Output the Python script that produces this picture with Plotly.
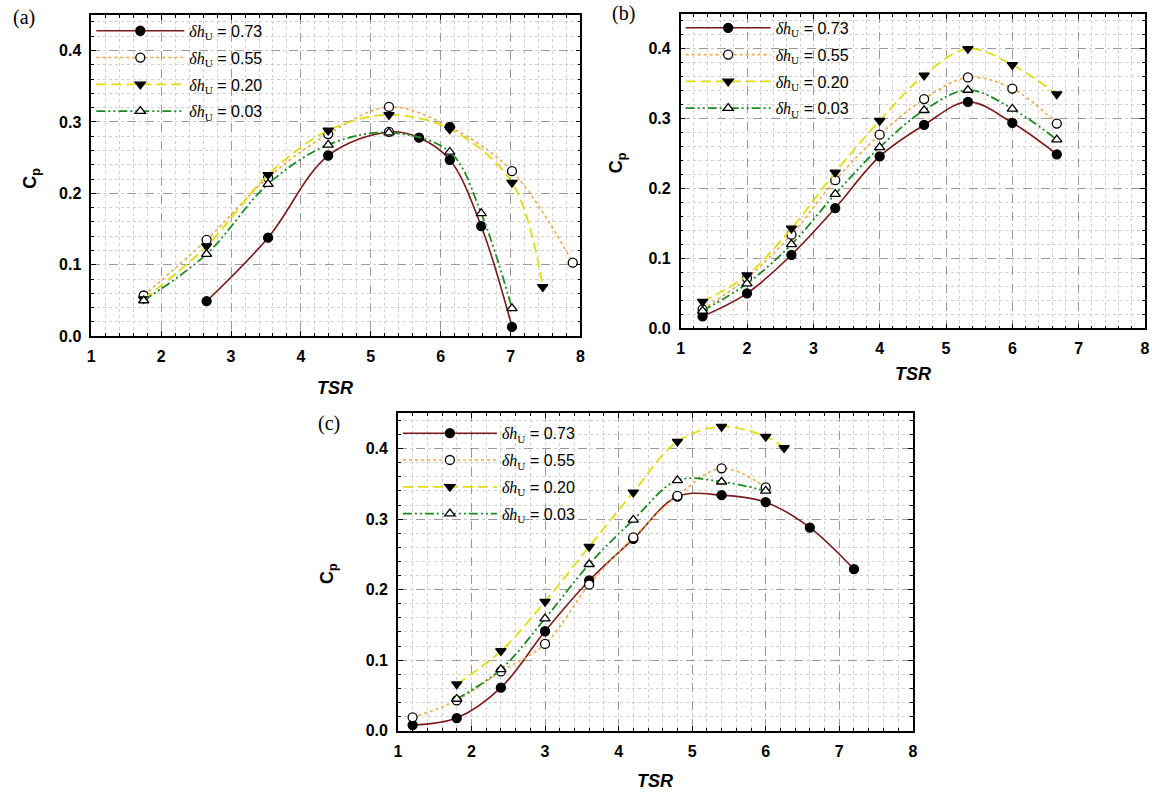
import plotly.graph_objects as go

# ---------------- data ----------------
series_labels = ["0.73", "0.55", "0.20", "0.03"]

# panel (a)
tsr_a_073 = [2.65, 3.53, 4.39, 5.26, 5.69, 6.13, 6.58, 7.02]
cp_a_073 = [0.049, 0.138, 0.253, 0.286, 0.278, 0.247, 0.154, 0.013]
tsr_a_055 = [1.75, 2.65, 3.53, 4.39, 5.26, 6.13, 7.02, 7.89]
cp_a_055 = [0.057, 0.135, 0.222, 0.283, 0.321, 0.293, 0.231, 0.103]
tsr_a_020 = [1.75, 2.65, 3.53, 4.39, 5.26, 6.13, 7.02, 7.46]
cp_a_020 = [0.052, 0.126, 0.226, 0.288, 0.310, 0.290, 0.215, 0.069]
tsr_a_003 = [1.75, 2.65, 3.53, 4.39, 5.26, 6.13, 6.58, 7.02]
cp_a_003 = [0.050, 0.115, 0.213, 0.268, 0.285, 0.258, 0.172, 0.039]

# panel (b)
tsr_b = [1.33, 2.0, 2.67, 3.33, 4.0, 4.67, 5.33, 6.0, 6.67]
cp_b_073 = [0.017, 0.050, 0.105, 0.172, 0.246, 0.291, 0.324, 0.294, 0.249]
cp_b_055 = [0.027, 0.072, 0.134, 0.212, 0.277, 0.328, 0.359, 0.343, 0.293]
cp_b_020 = [0.038, 0.076, 0.143, 0.223, 0.297, 0.362, 0.400, 0.377, 0.335]
cp_b_003 = [0.025, 0.064, 0.120, 0.192, 0.259, 0.312, 0.341, 0.314, 0.270]

# panel (c)
tsr_c_073 = [1.2, 1.8, 2.4, 3.0, 3.6, 4.2, 4.8, 5.4, 6.0, 6.6, 7.2]
cp_c_073 = [0.008, 0.018, 0.061, 0.141, 0.213, 0.272, 0.332, 0.334, 0.324, 0.288, 0.229]
tsr_c_055 = [1.2, 1.8, 2.4, 3.0, 3.6, 4.2, 4.8, 5.4, 6.0]
cp_c_055 = [0.019, 0.043, 0.084, 0.123, 0.207, 0.274, 0.333, 0.372, 0.345]
tsr_c_020 = [1.8, 2.4, 3.0, 3.6, 4.2, 4.8, 5.4, 6.0, 6.25]
cp_c_020 = [0.066, 0.113, 0.183, 0.261, 0.338, 0.410, 0.431, 0.417, 0.401]
tsr_c_003 = [1.8, 2.4, 3.0, 3.6, 4.2, 4.8, 5.4, 6.0]
cp_c_003 = [0.045, 0.087, 0.159, 0.236, 0.299, 0.355, 0.353, 0.340]

x_ticks = [1, 2, 3, 4, 5, 6, 7, 8]
y_ticks = [0.0, 0.1, 0.2, 0.3, 0.4]

# ---------------- styles ----------------
W, H = 1152, 803
colors = {"0.73": "#7a1a1a", "0.55": "#f0a848", "0.20": "#e2dc10", "0.03": "#1f8a24"}
dashes = {"0.73": "solid", "0.55": "dot", "0.20": "10px,5px",
          "0.03": "9px,3px,2px,3px,2px,3px"}
symbols = {"0.73": "circle", "0.55": "circle", "0.20": "triangle-down", "0.03": "triangle-up"}
fills = {"0.73": "black", "0.55": "white", "0.20": "black", "0.03": "white"}
widths = {"0.73": 1.6, "0.55": 1.6, "0.20": 1.8, "0.03": 1.8}


def px_dom_x(a, b):
    return [a / W, b / W]


def px_dom_y(top, bottom):
    return [1 - bottom / H, 1 - top / H]


panels = {
    "a": dict(xd=px_dom_x(88, 581), yd=px_dom_y(15, 340), legend="legend",
              data=[(tsr_a_073, cp_a_073), (tsr_a_055, cp_a_055),
                    (tsr_a_020, cp_a_020), (tsr_a_003, cp_a_003)]),
    "b": dict(xd=px_dom_x(682, 1150), yd=px_dom_y(14, 332), legend="legend2",
              data=[(tsr_b, cp_b_073), (tsr_b, cp_b_055),
                    (tsr_b, cp_b_020), (tsr_b, cp_b_003)]),
    "c": dict(xd=px_dom_x(397, 916), yd=px_dom_y(418, 739), legend="legend3",
              data=[(tsr_c_073, cp_c_073), (tsr_c_055, cp_c_055),
                    (tsr_c_020, cp_c_020), (tsr_c_003, cp_c_003)]),
}

# per-point fill overrides seen in panel (a)
fill_override = {("a", "0.73"): {3: "white"}, ("a", "0.55"): {5: "black"}}

fig = go.Figure()
axis_ids = {"a": ("x", "y"), "b": ("x2", "y2"), "c": ("x3", "y3")}

for key, p in panels.items():
    xa, ya = axis_ids[key]
    for lab, (xs, ys) in zip(series_labels, p["data"]):
        fc = [fills[lab]] * len(xs)
        for i, c in fill_override.get((key, lab), {}).items():
            fc[i] = c
        name = ('<span style="font-family:Liberation Serif"><i>δh</i><sub>U</sub></span>'
                ' = ' + lab)
        fig.add_trace(go.Scatter(
            x=xs, y=ys, mode="lines+markers", name=name,
            legendgroup=key + lab,
            line=dict(color=colors[lab], width=widths[lab], dash=dashes[lab],
                      shape="spline", smoothing=1.0),
            marker=dict(symbol=symbols[lab], size=9, color=fc,
                        line=dict(color="black", width=1.3)),
            xaxis=xa, yaxis=ya, legend=p["legend"], showlegend=True,
        ))

axis_common = dict(
    showline=True, linecolor="black", linewidth=1.5, mirror="ticks",
    ticks="inside", ticklen=5, tickwidth=1, tickcolor="black",
    showgrid=True, gridcolor="#9a9a9a", griddash="dash", gridwidth=1,
    zeroline=False, ticklabelstandoff=5,
    tickfont=dict(family="Liberation Sans", size=16, color="black", weight="bold"),
)

layout = dict(
    width=W, height=H, margin=dict(l=0, r=0, t=0, b=0),
    paper_bgcolor="white", plot_bgcolor="white", showlegend=True,
)

for key, p in panels.items():
    xa, ya = axis_ids[key]
    xname = "xaxis" if xa == "x" else "xaxis" + xa[1:]
    yname = "yaxis" if ya == "y" else "yaxis" + ya[1:]
    layout[xname] = dict(
        axis_common, domain=p["xd"], range=[1, 8], anchor=ya,
        tickvals=x_ticks, ticktext=[str(v) for v in x_ticks],
        minor=dict(dtick=0.2, tick0=1, ticks="inside", ticklen=3, tickcolor="black",
                   showgrid=True, gridcolor="#d0d0d0", griddash="dot", gridwidth=1),
    )
    layout[yname] = dict(
        axis_common, domain=p["yd"], range=[0, 0.45], anchor=xa,
        tickvals=y_ticks, ticktext=["%.1f" % v for v in y_ticks],
        minor=dict(dtick=0.02, tick0=0, ticks="inside", ticklen=3, tickcolor="black",
                   showgrid=True, gridcolor="#d0d0d0", griddash="dot", gridwidth=1),
    )

leg_common = dict(
    bgcolor="rgba(0,0,0,0)", borderwidth=0, xanchor="left", yanchor="top",
    font=dict(family="Liberation Sans", size=16, color="black"),
    tracegroupgap=3,
)
layout["legend"] = dict(leg_common, x=88 / W, y=1 - 14 / H, itemwidth=88)
layout["legend2"] = dict(leg_common, x=682 / W, y=1 - 11 / H, itemwidth=85)
layout["legend3"] = dict(leg_common, x=397 / W, y=1 - 421 / H, itemwidth=94)

fig.update_layout(**layout)

# axis titles and panel labels
ann = []
title_font = dict(family="Liberation Sans", size=18, color="black")
for key, (cx, cy) in {"a": (334, 392), "b": (916, 378), "c": (656, 790)}.items():
    ann.append(dict(text="<b><i>TSR</i></b>", x=cx / W, y=1 - cy / H, xref="paper",
                    yref="paper", showarrow=False, font=title_font,
                    xanchor="center", yanchor="middle"))
for key, (cx, cy) in {"a": (28, 180), "b": (618, 165), "c": (327, 580)}.items():
    ann.append(dict(text="<b>C<sub>p</sub></b>", x=cx / W, y=1 - cy / H, xref="paper",
                    yref="paper", showarrow=False, font=title_font, textangle=-90,
                    xanchor="center", yanchor="middle"))
for text, (cx, cy) in {"(a)": (20, 18), "(b)": (624, 14), "(c)": (328, 428)}.items():
    ann.append(dict(text=text, x=cx / W, y=1 - cy / H, xref="paper", yref="paper",
                    showarrow=False, xanchor="center", yanchor="middle",
                    font=dict(family="Liberation Serif", size=20, color="black")))
fig.update_layout(annotations=ann)

fig.write_html("out.html")
